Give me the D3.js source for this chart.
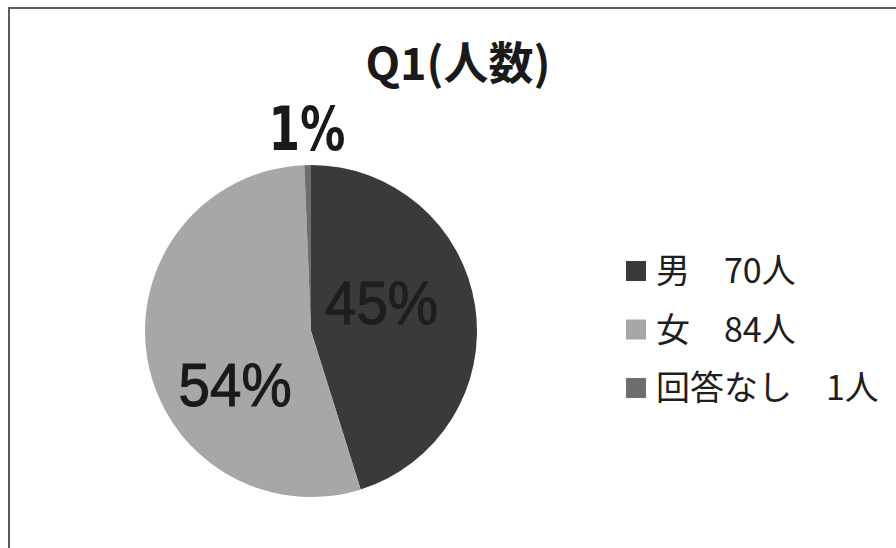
<!DOCTYPE html>
<html>
<head>
<meta charset="utf-8">
<script src="https://cdn.jsdelivr.net/npm/d3@7"></script>
<style>
  html, body { margin: 0; padding: 0; background: #fff; }
  svg { display: block; }
</style>
</head>
<body>
<script>
// Survey Q1: respondents by gender
const chartTitle = "Q1(人数)";
const categories = ["男", "女", "回答なし"];
const counts = [70, 84, 1];
const unit = "人";
const sliceColors = ["#3a3a3a", "#a7a7a7", "#6e6e6e"];

const W = 896, H = 548;
const svg = d3.select("body").append("svg")
  .attr("width", W).attr("height", H);

svg.append("rect").attr("width", W).attr("height", H).attr("fill", "#fff");

// chart frame (left and top edges visible)
svg.append("path")
  .attr("d", "M9,548V8H896")
  .attr("fill", "none")
  .attr("stroke", "#5a5a5a")
  .attr("stroke-width", 2);

// title
svg.append("text")
  .attr("x", 458).attr("y", 80)
  .attr("text-anchor", "middle")
  .attr("font-family", "'Noto Sans CJK JP', sans-serif")
  .attr("font-weight", "bold")
  .attr("font-size", 45)
  .attr("fill", "#1a1a1a")
  .text(chartTitle);

// pie
const cx = 311, cy = 331, r = 166;
const total = d3.sum(counts);
const data = categories.map((name, i) => ({ name, count: counts[i], color: sliceColors[i] }));
const pie = d3.pie().sort(null).value(d => d.count);
const arcs = pie(data);
const arc = d3.arc().innerRadius(0).outerRadius(r);

const g = svg.append("g").attr("transform", `translate(${cx},${cy})`);
g.selectAll("path.slice")
  .data(arcs)
  .join("path")
  .attr("class", "slice")
  .attr("d", arc)
  .attr("fill", d => d.data.color);

// percentage labels: radius as a fraction of r, angular nudge from the slice middle
const labelLayout = [
  { k: 0.46, shift: -0.24, fill: "#1e1e1e", len: 113, family: "'Liberation Sans', Arial, sans-serif", weight: "normal", size: 61, stroke: 1.1 },
  { k: 0.555, shift: -0.43, fill: "#1a1a1a", len: 113, family: "'Liberation Sans', Arial, sans-serif", weight: "normal", size: 62, stroke: 1.1 },
  { k: 1.22, shift: 0.0, fill: "#1a1a1a", len: 77, family: "'DejaVu Sans', sans-serif", weight: "bold", size: 61, stroke: 0 }
];

g.selectAll("text.pct")
  .data(arcs)
  .join("text")
  .attr("class", "pct")
  .each(function (d, i) {
    const lay = labelLayout[i];
    const a = (d.startAngle + d.endAngle) / 2 + lay.shift;
    const rr = r * lay.k;
    d3.select(this)
      .attr("x", Math.sin(a) * rr)
      .attr("y", -Math.cos(a) * rr)
      .attr("fill", lay.fill)
      .attr("stroke", lay.stroke ? lay.fill : "none")
      .attr("stroke-width", lay.stroke)
      .attr("font-family", lay.family)
      .attr("font-weight", lay.weight)
      .attr("font-size", lay.size)
      .attr("textLength", lay.len)
      .attr("lengthAdjust", "spacingAndGlyphs");
  })
  .attr("dy", "0.36em")
  .attr("text-anchor", "middle")
  .text(d => Math.round(d.data.count / total * 100) + "%");

// legend
const legendX = 626, legendY0 = 271, legendStep = 58.5, box = 20;
const legend = svg.append("g");
const rows = legend.selectAll("g")
  .data(data)
  .join("g")
  .attr("transform", (d, i) => `translate(${legendX},${legendY0 + i * legendStep})`);

rows.append("rect")
  .attr("x", 0).attr("y", -box / 2)
  .attr("width", box).attr("height", box)
  .attr("fill", d => d.color);

rows.append("text")
  .attr("x", 30).attr("y", 12)
  .attr("font-family", "'Noto Sans CJK JP', sans-serif")
  .attr("font-size", 34)
  .attr("fill", "#1e1e1e")
  .text(d => d.name + "\u3000" + d.count + unit);
</script>
</body>
</html>
